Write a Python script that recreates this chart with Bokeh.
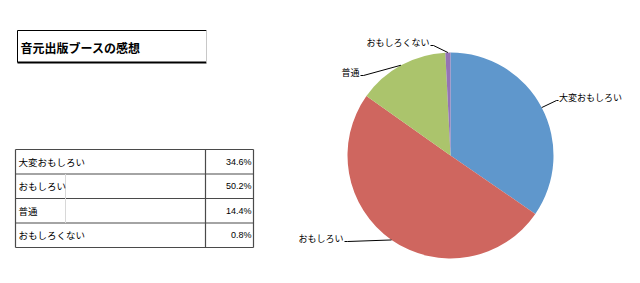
import numpy as np
from bokeh.plotting import figure
from bokeh.models import Range1d
from bokeh.core.properties import value
from bokeh.embed import file_html
from bokeh.resources import INLINE

# ---- data ----
title = "音元出版ブースの感想"
categories = ["大変おもしろい", "おもしろい", "普通", "おもしろくない"]
percents = [34.6, 50.2, 14.4, 0.8]
colors = ["#5F97CC", "#CF665F", "#ABC46C", "#9474B5"]

W, H = 640, 283
JP = value("Noto Sans CJK JP")


def Y(y):
    return H - np.asarray(y, dtype=float)


p = figure(width=W, height=H, output_backend="svg", toolbar_location=None,
           x_range=Range1d(0, W), y_range=Range1d(0, H),
           x_axis_type=None, y_axis_type=None,
           min_border=0, min_border_left=0, min_border_right=0,
           min_border_top=0, min_border_bottom=0)
p.grid.visible = False
p.outline_line_color = None
p.background_fill_color = "white"
p.border_fill_color = "white"

# ---- title box ----
bx0, bx1, by0, by1 = 17, 206, 30, 62
p.segment(x0=[bx0, bx0], y0=Y([by0, by0]), x1=[bx1, bx0], y1=Y([by0, by1]),
          line_color="black", line_width=1)
p.segment(x0=[bx0], y0=Y([by1]), x1=[bx1], y1=Y([by1]), line_color="black", line_width=2)
p.segment(x0=[bx1], y0=Y([by0]), x1=[bx1], y1=Y([by1]), line_color="#c8c8c8", line_width=1)
p.text(x=[20], y=Y([46.5]), text=[title], text_font=JP, text_font_size="12px",
       text_font_style="bold", text_baseline="middle", text_color="black")

# ---- table ----
tx0, tx1, tsep, tin = 15, 253, 205, 65
ty0, rh = 149, 24.5
n = len(categories)
row_tops = [ty0 + i * rh for i in range(n + 1)]
lc = "#4a4a4a"
p.segment(x0=[tx0] * (n + 1), y0=Y(row_tops), x1=[tx1] * (n + 1), y1=Y(row_tops),
          line_color=lc, line_width=1.2)
p.segment(x0=[tx0, tsep, tx1], y0=Y([ty0] * 3), x1=[tx0, tsep, tx1], y1=Y([row_tops[-1]] * 3),
          line_color=lc, line_width=1.2)
p.segment(x0=[tin], y0=Y([row_tops[1]]), x1=[tin], y1=Y([row_tops[3]]),
          line_color="#d8d8d8", line_width=1)
mids = [ty0 + (i + 0.5) * rh for i in range(n)]
p.text(x=[18] * n, y=Y(mids), text=categories, text_font=JP, text_font_size="9.5px",
       text_baseline="middle", text_color="black")
p.text(x=[251] * n, y=Y(mids), text=[f"{v}%" for v in percents],
       text_font=value("Liberation Sans"), text_font_size="9px",
       text_baseline="middle", text_align="right", text_color="black")

# ---- pie ----
cx, cy, r = 450, 155, 103
frac = np.array(percents) / sum(percents)
cum = np.cumsum(frac)
start = np.pi / 2 - 2 * np.pi * cum
end = np.pi / 2 - 2 * np.pi * (cum - frac)
p.wedge(x=[cx] * n, y=Y([cy] * n), radius=r, start_angle=start, end_angle=end,
        fill_color=colors, line_color=None)

# leader lines and labels
mid = np.pi / 2 - 2 * np.pi * (cum - frac / 2)
ex = cx + r * np.cos(mid)
ey = cy - r * np.sin(mid)
anchors = [(556, 100, "left"), (347, 241, "right"), (363, 75, "right"), (433, 45, "right")]
for i in range(n):
    ax, ay, al = anchors[i]
    hx = ax + (2 if al == "left" else -3)
    p.line(x=[ex[i], ax, hx], y=Y([ey[i], ay, ay]), line_color="black", line_width=1)
    tx = hx + (0.5 if al == "left" else -1)
    p.text(x=[tx], y=Y([ay - 3]), text=[categories[i]], text_font=JP,
           text_font_size="9px", text_baseline="middle", text_align=al,
           text_color="black")

open("out.html", "w").write(file_html(p, INLINE))
